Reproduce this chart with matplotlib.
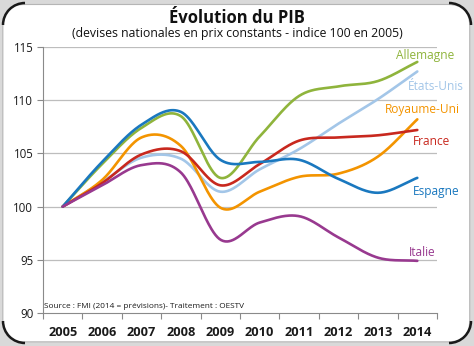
import numpy as np
import matplotlib
matplotlib.use("Agg")
import matplotlib.pyplot as plt
from matplotlib.patches import FancyBboxPatch, Arc

plt.rcParams['font.family'] = ['Open Sans', 'DejaVu Sans']

years = ['2005', '2006', '2007', '2008', '2009', '2010', '2011', '2012', '2013', '2014']

allemagne = [100, 104.0, 107.4, 108.5, 102.7, 106.6, 110.4, 111.3, 111.8, 113.6]
etats_unis = [100, 102.3, 104.6, 104.5, 101.4, 103.5, 105.4, 107.8, 110.1, 112.7]
royaume_uni = [100, 102.5, 106.5, 105.7, 99.9, 101.4, 102.8, 103.1, 104.7, 108.2]
france = [100, 102.2, 104.9, 105.2, 102.0, 104.0, 106.2, 106.5, 106.7, 107.2]
espagne = [100, 104.2, 107.7, 108.9, 104.4, 104.2, 104.4, 102.6, 101.3, 102.7]
italie = [100, 102.0, 103.9, 103.2, 96.9, 98.5, 99.1, 97.1, 95.2, 94.9]

series = [
    ('Allemagne', allemagne, '#8fb43c'),
    ('États-Unis', etats_unis, '#a3c6e8'),
    ('Royaume-Uni', royaume_uni, '#f39400'),
    ('France', france, '#c8281e'),
    ('Espagne', espagne, '#1a78bf'),
    ('Italie', italie, '#98398f'),
]

# label anchor positions (x in category units, y in index units)
label_pos = {
    'Allemagne': (9.2, 114.2),
    'États-Unis': (9.46, 111.3),
    'Royaume-Uni': (9.13, 109.15),
    'France': (9.36, 106.1),
    'Espagne': (9.47, 101.4),
    'Italie': (9.13, 95.65),
}


def smooth_curve(values, steps=40):
    """Catmull-Rom spline through the yearly values (Excel-like smoothing)."""
    y = np.asarray(values, dtype=float)
    n = len(y)
    xs, ys = [], []
    for i in range(n - 1):
        p1, p2 = y[i], y[i + 1]
        p0 = y[i - 1] if i > 0 else 2 * p1 - p2
        p3 = y[i + 2] if i + 2 < n else 2 * p2 - p1
        m1 = (p2 - p0) / 2.0
        m2 = (p3 - p1) / 2.0
        t = np.linspace(0, 1, steps, endpoint=(i == n - 2))
        h00 = 2 * t**3 - 3 * t**2 + 1
        h10 = t**3 - 2 * t**2 + t
        h01 = -2 * t**3 + 3 * t**2
        h11 = t**3 - t**2
        xs.append(i + t)
        ys.append(h00 * p1 + h10 * m1 + h01 * p2 + h11 * m2)
    return np.concatenate(xs), np.concatenate(ys)


fig = plt.figure(figsize=(4.74, 3.46), dpi=100)
fig.patch.set_facecolor('#d9d9d9')

# rounded white panel
panel = FancyBboxPatch((0.006, 0.012), 0.985, 0.975,
                       boxstyle="round,pad=0,rounding_size=0.045",
                       transform=fig.transFigure, facecolor='white',
                       edgecolor='#b5b5b5', linewidth=0.8, zorder=-2,
                       mutation_aspect=474 / 346)
fig.patches.append(panel)

ax = fig.add_axes([43 / 474, 33 / 346, 394 / 474, 266 / 346])
ax.set_facecolor('none')
ax.set_zorder(3)

for name, vals, color in series:
    xs, ys = smooth_curve(vals)
    ax.plot(xs, ys, color=color, lw=1.9, solid_capstyle='round', zorder=3)
    lx, ly = label_pos[name]
    ax.text(lx, ly, name, color=color, fontsize=8.6, ha='center', va='center',
            clip_on=False, zorder=4)

ax.set_xlim(-0.5, 9.5)
ax.set_ylim(90, 115)
ax.set_yticks([90, 95, 100, 105, 110, 115])
ax.set_yticklabels(['90', '95', '100', '105', '110', '115'], fontsize=8.3, color='#1a1a1a')
ax.set_xticks(range(len(years)))
ax.set_xticklabels(years, fontsize=9.2, fontweight='bold', color='#1a1a1a')
ax.set_xticks(np.arange(-0.5, 10, 1), minor=True)
ax.tick_params(axis='x', which='major', length=0, pad=9)
ax.tick_params(axis='x', which='minor', length=4, width=0.8, color='#8a8a8a', direction='out')
ax.tick_params(axis='y', length=4, width=0.8, color='#8a8a8a', pad=3)

for v in [95, 100, 105, 110, 115]:
    ax.axhline(v, color='#bdbdbd', lw=0.9, zorder=1)

for s in ['top', 'right']:
    ax.spines[s].set_visible(False)
for s in ['left', 'bottom']:
    ax.spines[s].set_color('#8a8a8a')
    ax.spines[s].set_linewidth(0.8)

ax.text(0.003, 0.012, 'Source : FMI (2014 = prévisions)- Traitement : OESTV',
        transform=ax.transAxes, fontsize=5.95, color='#1a1a1a', ha='left', va='bottom')

fig.text(237 / 474, 1 - 18 / 346, 'Évolution du PIB', fontsize=12, fontweight='bold',
         ha='center', va='center', color='#111111')
fig.text(237 / 474, 1 - 34 / 346, '(devises nationales en prix constants - indice 100 en 2005)',
         fontsize=8.8, ha='center', va='center', color='#111111')

# dark corner arcs of the frame
r = 22
corners = [((3 + r), (346 - 3 - r), 90, 180), ((471 - r), (346 - 3 - r), 0, 90),
           ((3 + r), (3 + r), 180, 270), ((471 - r), (3 + r), 270, 360)]
for cx, cy, t1, t2 in corners:
    arc = Arc((cx / 474, cy / 346), 2 * r / 474, 2 * r / 346, theta1=t1, theta2=t2,
              transform=fig.transFigure, color='#1a1a1a', lw=1.8, zorder=1)
    fig.patches.append(arc)

fig.savefig('out.png', dpi=100, facecolor=fig.get_facecolor())
